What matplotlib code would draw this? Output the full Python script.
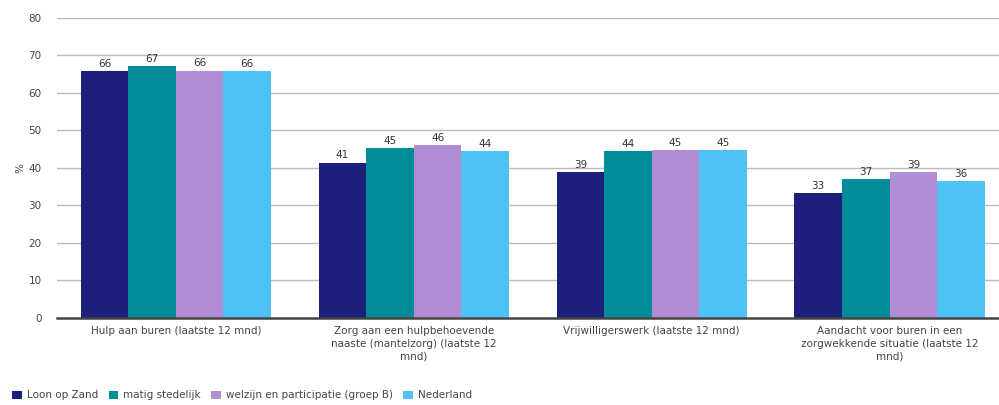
import matplotlib.pyplot as plt
import numpy as np

categories = [
    "Hulp aan buren (laatste 12 mnd)",
    "Zorg aan een hulpbehoevende\nnaaste (mantelzorg) (laatste 12\nmnd)",
    "Vrijwilligerswerk (laatste 12 mnd)",
    "Aandacht voor buren in een\nzorgwekkende situatie (laatste 12\nmnd)",
]
series_names = ["Loon op Zand", "matig stedelijk",
                "welzijn en participatie (groep B)", "Nederland"]
loon_op_zand = [65.8, 41.4, 38.8, 33.2]
matig_stedelijk = [67.1, 45.3, 44.4, 37.0]
welzijn = [65.9, 46.1, 44.8, 38.8]
nederland = [65.8, 44.5, 44.8, 36.4]
colors = ["#1c1f7c", "#008c99", "#b18dd4", "#4ec1f5"]

values = [loon_op_zand, matig_stedelijk, welzijn, nederland]

fig = plt.figure(figsize=(9.99, 4.05), dpi=100)
ax = fig.add_axes([0.057, 0.215, 0.943, 0.741])

x = np.arange(len(categories))
w = 0.2
for i, (vals, name, col) in enumerate(zip(values, series_names, colors)):
    pos = x + (i - 1.5) * w
    bars = ax.bar(pos, vals, width=w, color=col, label=name, zorder=3)
    for b, v in zip(bars, vals):
        ax.text(b.get_x() + b.get_width() / 2, v + 0.6, f"{v:.0f}",
                ha="center", va="bottom", fontsize=7.5, color="#333333", zorder=4)

ax.set_ylim(0, 80)
ax.set_xlim(-0.5, 3.46)
ax.set_yticks(range(0, 81, 10))
ax.yaxis.grid(True, color="#bbbbbb", linewidth=1, zorder=0)
ax.tick_params(axis="y", length=0, labelsize=7.5, labelcolor="#444444", pad=11)
ax.tick_params(axis="x", length=0, labelsize=7.5, labelcolor="#444444", pad=6)
ax.set_xticks(x)
ax.set_xticklabels(categories, va="top", linespacing=1.3)
for s in ["top", "right", "left"]:
    ax.spines[s].set_visible(False)
ax.spines["bottom"].set_color("#444444")
ax.spines["bottom"].set_linewidth(1.8)
ax.spines["bottom"].set_zorder(5)
ax.set_ylabel("%", fontsize=7.5, color="#444444", rotation=90, labelpad=2)

fig.legend(loc="lower left", bbox_to_anchor=(0.003, -0.012), ncol=4,
           frameon=False, fontsize=7.5, handlelength=0.9, handleheight=0.9,
           handletextpad=0.5, columnspacing=1.0, labelcolor="#444444")

fig.savefig("out.png", dpi=100)
